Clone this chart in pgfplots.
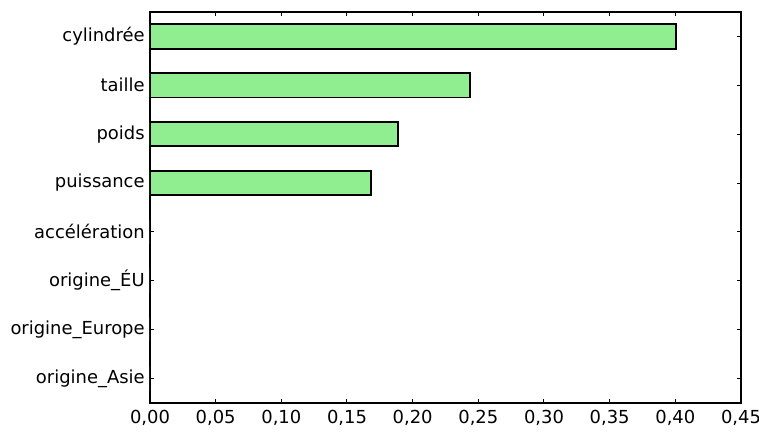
\documentclass[border=0pt]{standalone}
\usepackage{fontspec}
\setmainfont{DejaVu Sans}
\usepackage{pgfplots}
\pgfplotsset{compat=1.18}
\definecolor{barfill}{HTML}{90EE90}
\begin{document}
\fontsize{9}{10.8}\selectfont
\begin{tikzpicture}
\begin{axis}[
  scale only axis,
  width=295.5bp, height=195.5bp,
  xbar, bar width=0.5,
  xmin=0, xmax=0.45,
  ymin=-0.5, ymax=7.5,
  xtick={0,0.05,...,0.45},
  ytick={0,...,7},
  yticklabels={origine\_Asie,origine\_Europe,origine\_ÉU,accélération,puissance,poids,taille,cylindrée},
  tick pos=both, ticklabel pos=left,
  tick align=inside,
  major tick length=2bp,
  axis line style={line width=0.75bp},
  tick style={line width=0.5bp, black},
  x tick label style={yshift=-0.5bp},
  y tick label style={xshift=0.5bp},
  xticklabel style={/pgf/number format/.cd, use comma, fixed, fixed zerofill, precision=2},
  /pgf/number format/assume math mode=true,
  ticklabel style={font=\fontsize{9}{10.8}\selectfont, text=black},
  scaled x ticks=false,
]
\addplot[fill=barfill, draw=black, line width=0.9bp] coordinates {
  (0,0) (0,1) (0,2) (0,3) (0.1685,4) (0.1887,5) (0.2435,6) (0.4006,7)
};
\end{axis}
\pgfresetboundingbox
\path[use as bounding box] ([xshift=-75bp,yshift=-16bp]current axis.south west) rectangle ([xshift=9bp,yshift=6bp]current axis.north east);
\end{tikzpicture}
\end{document}
